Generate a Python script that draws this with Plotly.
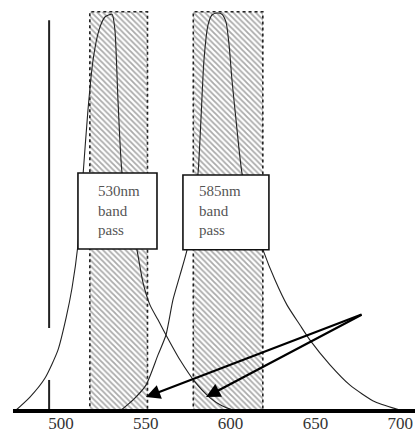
import plotly.graph_objects as go

# ---- data (wavelength in nm, relative transmission 0..1) ----
tick_nm = [500, 550, 600, 650, 700]
tick_labels = ["500", "550", "600", "650", "700"]

curve530_nm = [472.9, 481.7, 490.6, 498.2, 503.0, 506.5, 510.0, 513.0, 515.9, 518.9, 522.4,
               525.9, 530.1, 531.8, 533.6, 536.0, 540.7, 544.8, 548.4, 552.5, 557.2, 561.9,
               570.2, 579.0, 587.9, 594.9, 602.6]
curve530_rel = [0.0, 0.035, 0.083, 0.153, 0.234, 0.309, 0.417, 0.593, 0.756, 0.882, 0.957,
                0.990, 0.997, 0.957, 0.781, 0.598, 0.492, 0.405, 0.322, 0.266, 0.229, 0.191,
                0.128, 0.073, 0.033, 0.013, 0.0]

curve585_nm = [534.8, 542.5, 550.1, 557.2, 561.9, 566.0, 570.2, 574.3, 577.8, 580.8, 582.5,
               584.3, 586.7, 589.0, 592.0, 594.9, 597.3, 599.1, 600.8, 603.2, 606.7, 612.6,
               619.1, 626.2, 633.3, 640.9, 646.8, 658.6, 670.4, 685.1, 701.6]
curve585_rel = [0.0, 0.028, 0.065, 0.141, 0.191, 0.279, 0.342, 0.405, 0.505, 0.598, 0.731,
                0.882, 0.970, 0.995, 1.0, 0.997, 0.977, 0.920, 0.832, 0.731, 0.598, 0.492,
                0.405, 0.329, 0.266, 0.216, 0.178, 0.116, 0.065, 0.023, 0.0]

band_lo_nm = [517, 578]
band_hi_nm = [551, 619]
band_text = ["530nm<br>band<br>pass", "585nm<br>band<br>pass"]

marker_nm = 493
arrow_tip_nm = [550.1, 585.5]
arrow_tip_rel = [0.035, 0.035]
arrow_tail_nm = 678.1
arrow_tail_rel = 0.244

# ---- figure ----
fig = go.Figure()

band_top = 1.003
for lo, hi in zip(band_lo_nm, band_hi_nm):
    fig.add_trace(go.Scatter(
        x=[lo, hi, hi, lo, lo], y=[0, 0, band_top, band_top, 0],
        mode="lines", fill="toself", fillcolor="white",
        fillpattern=dict(shape="\\", fgcolor="#555555", bgcolor="white", size=4, solidity=0.45),
        line=dict(color="#222", width=1.6, dash="dot"), hoverinfo="skip"))

for xs, ys in [(curve530_nm, curve530_rel), (curve585_nm, curve585_rel)]:
    fig.add_trace(go.Scatter(x=xs, y=ys, mode="lines",
                             line=dict(color="#222", width=1.1, shape="spline", smoothing=0.6),
                             hoverinfo="skip"))

# vertical reference line (with gap)
fig.add_trace(go.Scatter(x=[marker_nm, marker_nm, None, marker_nm, marker_nm],
                         y=[0.982, 0.2085, None, 0.078, 0.0], mode="lines",
                         line=dict(color="#222", width=2), hoverinfo="skip"))

# baseline
fig.add_trace(go.Scatter(x=[471.7, 712], y=[0, 0], mode="lines",
                         line=dict(color="#000", width=4), hoverinfo="skip"))

# label boxes
boxes = [(510.0, 556.6, 0.407, 0.598, 520.5), (571.9, 622.6, 0.405, 0.593, 580.3)]
for (x0, x1, y0, y1, tx), txt in zip(boxes, band_text):
    fig.add_shape(type="rect", x0=x0, x1=x1, y0=y0, y1=y1, xref="x", yref="y",
                  fillcolor="white", line=dict(color="#111", width=1.6), layer="above")
    fig.add_annotation(x=tx, y=0.505, text=txt, showarrow=False, xanchor="left",
                       yanchor="middle", align="left",
                       font=dict(family="Liberation Serif", size=15, color="#555"))

for tx, ty in zip(arrow_tip_nm, arrow_tip_rel):
    fig.add_annotation(x=tx, y=ty, ax=arrow_tail_nm, ay=arrow_tail_rel, axref="x", ayref="y",
                       xref="x", yref="y", text="", showarrow=True, arrowhead=2,
                       arrowsize=1.3, arrowwidth=2.2, arrowcolor="#000")

fig.update_layout(
    width=415, height=439, margin=dict(l=0, r=0, t=0, b=24, autoexpand=False),
    paper_bgcolor="white", plot_bgcolor="white", showlegend=False,
    xaxis=dict(range=[464.04, 708.72], showgrid=False, zeroline=False, showline=False,
               automargin=False, anchor="free", position=0.0096,
               tickvals=tick_nm, ticktext=tick_labels, ticks="",
               tickfont=dict(family="Liberation Serif", size=17, color="#333")),
    yaxis=dict(range=[-0.01005, 1.0327], visible=False, showgrid=False, zeroline=False,
               automargin=False),
)

fig.write_html("out.html", post_script="document.body.style.margin='0';",
               config={"displayModeBar": False})
